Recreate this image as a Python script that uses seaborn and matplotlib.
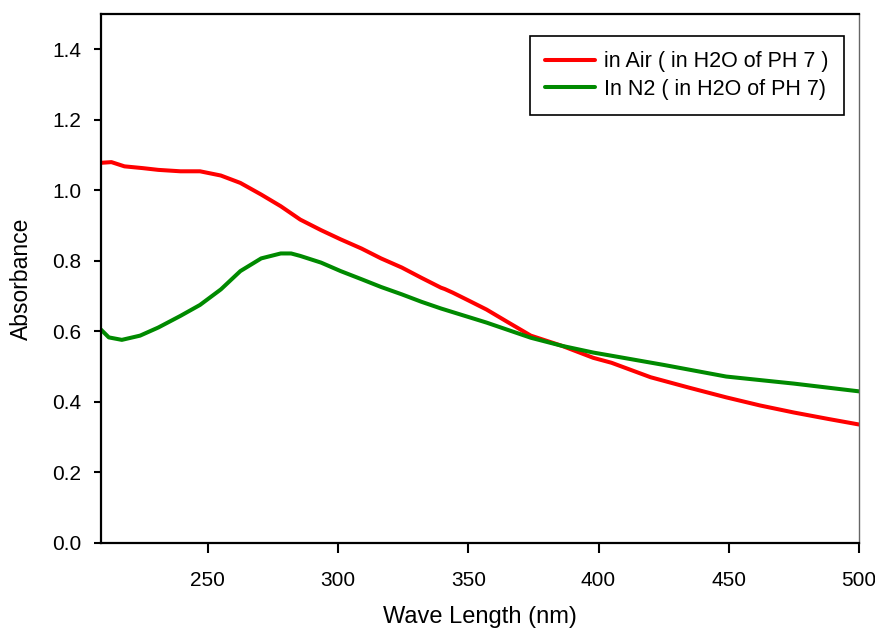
import numpy as np
import pandas as pd
import matplotlib
matplotlib.use("Agg")
import matplotlib.pyplot as plt
import seaborn as sns

# Data
air_wl = [209, 213, 218, 225, 231, 239.5, 247, 255, 262.5, 270.5, 278, 285.5,
          293.5, 301, 309, 316.5, 324.5, 332, 339.5, 341, 344, 350, 357,
          365, 374, 386, 398, 405, 420, 435, 449, 462, 475, 488, 500]
air_abs = [1.078, 1.080, 1.068, 1.063, 1.058, 1.054, 1.054, 1.042, 1.021,
           0.988, 0.955, 0.917, 0.887, 0.861, 0.835, 0.807, 0.781, 0.752,
           0.724, 0.720, 0.710, 0.688, 0.662, 0.627, 0.588, 0.559, 0.525,
           0.511, 0.470, 0.440, 0.413, 0.390, 0.370, 0.352, 0.336]
n2_wl = [209, 212, 217, 224, 231, 239.5, 247, 255, 262.5, 270.5, 278, 282,
         285.5, 293.5, 301, 309, 316.5, 324.5, 332, 339.5, 357, 374, 386,
         398, 405, 425, 449, 475, 500]
n2_abs = [0.605, 0.583, 0.576, 0.588, 0.611, 0.644, 0.675, 0.719, 0.771,
          0.807, 0.821, 0.821, 0.814, 0.795, 0.771, 0.748, 0.726, 0.705,
          0.684, 0.665, 0.625, 0.582, 0.559, 0.540, 0.531, 0.505, 0.472,
          0.452, 0.430]
labels = ["in Air ( in H2O of PH 7 )", "In N2 ( in H2O of PH 7)"]
x_ticks = [250, 300, 350, 400, 450, 500]
y_ticks = [0.0, 0.2, 0.4, 0.6, 0.8, 1.0, 1.2, 1.4]

df = pd.concat([
    pd.DataFrame({"wl": air_wl, "abs": air_abs, "series": labels[0]}),
    pd.DataFrame({"wl": n2_wl, "abs": n2_abs, "series": labels[1]}),
])

sns.set_style("white")
plt.rcParams["font.family"] = ["Liberation Sans", "DejaVu Sans"]
plt.rcParams["text.color"] = "black"
plt.rcParams["axes.labelcolor"] = "black"
plt.rcParams["xtick.color"] = "black"
plt.rcParams["ytick.color"] = "black"

fig = plt.figure(figsize=(8.75, 6.3), dpi=100)
ax = fig.add_axes([101/875, 1-543/630, 758/875, 529/630])

sns.lineplot(data=df, x="wl", y="abs", hue="series", sort=False,
             estimator=None, palette=["#ff0000", "#008a00"], linewidth=2.9,
             ax=ax)
for ln in ax.get_lines():
    ln.set_solid_joinstyle("round")
    ln.set_solid_capstyle("round")

ax.set_xlim(209, 500)
ax.set_ylim(0, 1.5)
ax.set_xticks(x_ticks)
ax.set_yticks(y_ticks)
ax.set_yticklabels([f"{v:.1f}" for v in y_ticks])
ax.tick_params(axis="both", direction="out", length=5, width=1.5,
               labelsize=15, colors="black", bottom=True, left=True,
               top=False, right=False)
ax.tick_params(axis="y", pad=9)
ax.tick_params(axis="x", length=7, pad=13)
for s in ["left", "bottom", "top"]:
    ax.spines[s].set_color("black")
    ax.spines[s].set_linewidth(1.6)
ax.spines["right"].set_color("#666666")
ax.spines["right"].set_linewidth(1.0)

ax.set_xlabel("Wave Length (nm)", fontsize=17, labelpad=12, color="black")
ax.set_ylabel("Absorbance", fontsize=16.5, labelpad=14, color="black")

leg = ax.legend(loc="upper right", bbox_to_anchor=(0.980, 0.958),
                borderaxespad=0, fontsize=15.5, frameon=True, fancybox=False,
                handlelength=2.3, handletextpad=0.45, labelspacing=0.3,
                borderpad=0.7, title=None)
leg.get_frame().set_edgecolor("black")
leg.get_frame().set_linewidth(1.2)
leg.get_frame().set_alpha(1)
for line in leg.get_lines():
    line.set_linewidth(2.9)
for t in leg.get_texts():
    t.set_color("black")

fig.savefig("out.png", dpi=100)
